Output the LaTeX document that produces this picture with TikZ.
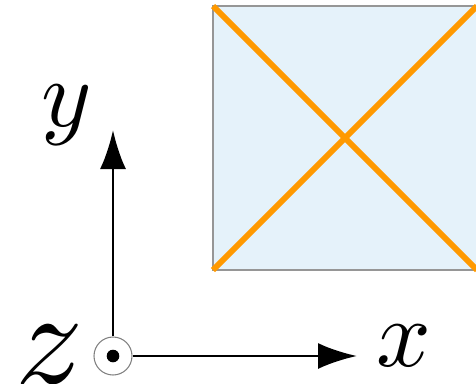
\documentclass[tikz,border=0pt]{standalone}
\usetikzlibrary{arrows.meta}
\tikzset{>={Latex[length=.39cm,width=.26cm]},every node/.style={inner sep=0pt},lab/.style={scale=2.73},axis/.style={line width=.8pt,->},diag/.style={line width=1.7pt,draw={rgb,255:red,255;green,153;blue,0}},plate/.style={fill={rgb,255:red,229;green,242;blue,250},draw={rgb,255:red,150;green,150;blue,150},line width=.6pt}}

\begin{document}
\begin{tikzpicture}
\useasboundingbox (0,0) rectangle (4.76,3.83);
\coordinate (sw) at (2.13,1.13);\coordinate (ne) at (4.77,3.77);
\coordinate (nw) at (2.13,3.77);\coordinate (se) at (4.77,1.13);
\draw[plate] (sw) rectangle (ne);
\draw[diag] (sw)--(ne);\draw[diag] (nw)--(se);
\node[circle,draw=gray,line width=.3pt,minimum size=.38cm] (o) at (1.13,.27) {};
\fill (o.center) circle (.063);
\coordinate (ytip) at (1.13,2.53);\coordinate (xtip) at (3.57,.27);
\draw[axis] (o)--(ytip);\draw[axis] (o)--(xtip);
\node[lab] (ylab) at (.665,2.68) {$y$};
\node[lab] (xlab) at (4.04,.37) {$x$};
\node[lab,scale=1.4,anchor=north west] (zlab) at (.13,.6) {$z$};
\end{tikzpicture}
\end{document}
